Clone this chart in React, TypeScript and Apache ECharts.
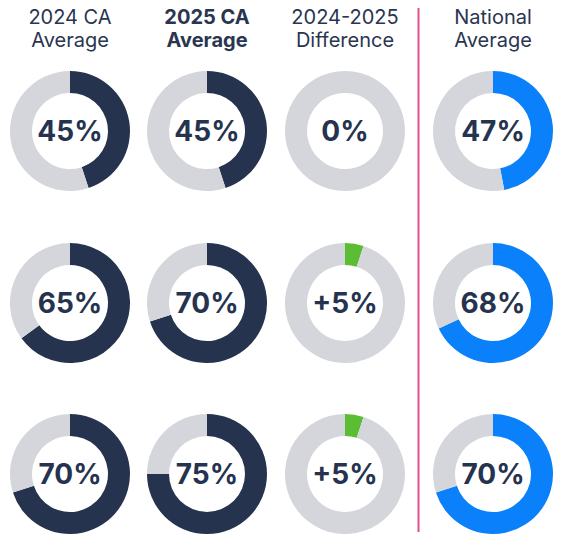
import React, { useEffect, useRef } from "react";
import * as echarts from "echarts";

const headers = ["2024 CA\nAverage", "2025 CA\nAverage", "2024-2025\nDifference", "National\nAverage"];
const headerBold = [false, true, false, false];
const ca2024 = [45, 65, 70];
const ca2025 = [45, 70, 75];
const diff = [0, 5, 5];
const national = [47, 68, 70];

const colX = [70, 207, 345, 493];
const rowY = [131, 303, 474];
const NAVY = "#25334f";
const GRAY = "#d5d6db";
const GREEN = "#5bbd33";
const BLUE = "#0a80fa";
const FONT = "Inter, 'Noto Sans', sans-serif";

export default function App() {
  const ref = useRef<HTMLDivElement>(null);
  useEffect(() => {
    document.body.style.margin = "0";
    const chart = echarts.init(ref.current!, undefined, { renderer: "svg" });
    const columns = [
      { vals: ca2024, color: NAVY, fmt: (v: number) => `${v}%` },
      { vals: ca2025, color: NAVY, fmt: (v: number) => `${v}%` },
      { vals: diff, color: GREEN, fmt: (v: number) => (v > 0 ? `+${v}%` : `${v}%`) },
      { vals: national, color: BLUE, fmt: (v: number) => `${v}%` },
    ];
    const series: any[] = [];
    const graphic: any[] = [];
    columns.forEach((col, ci) => {
      col.vals.forEach((v, ri) => {
        series.push({
          type: "pie",
          center: [colX[ci], rowY[ri]],
          radius: [38, 60],
          startAngle: 90,
          clockwise: true,
          silent: true,
          label: { show: false },
          labelLine: { show: false },
          data: [
            { value: v, itemStyle: { color: col.color } },
            { value: 100 - v, itemStyle: { color: GRAY } },
          ],
        });
        graphic.push({
          type: "text",
          x: colX[ci],
          y: rowY[ri],
          style: {
            text: col.fmt(v),
            fill: NAVY,
            font: `bold 28px ${FONT}`,
            align: "center",
            verticalAlign: "middle",
          },
        });
      });
    });
    headers.forEach((h, ci) => {
      graphic.push({
        type: "text",
        x: colX[ci],
        y: 5,
        style: {
          text: h,
          fill: "#2a3550",
          font: `${headerBold[ci] ? "bold " : ""}20px ${FONT}`,
          lineHeight: 23,
          align: "center",
          verticalAlign: "top",
        },
      });
    });
    graphic.push({
      type: "line",
      shape: { x1: 418.5, y1: 8, x2: 418.5, y2: 532 },
      style: { stroke: "#e0508a", lineWidth: 2 },
    });
    chart.setOption({ animation: false, series, graphic });
    return () => chart.dispose();
  }, []);
  return <div ref={ref} style={{ position: "absolute", left: 0, top: 0, width: 564, height: 550, background: "#fff" }} />;
}
